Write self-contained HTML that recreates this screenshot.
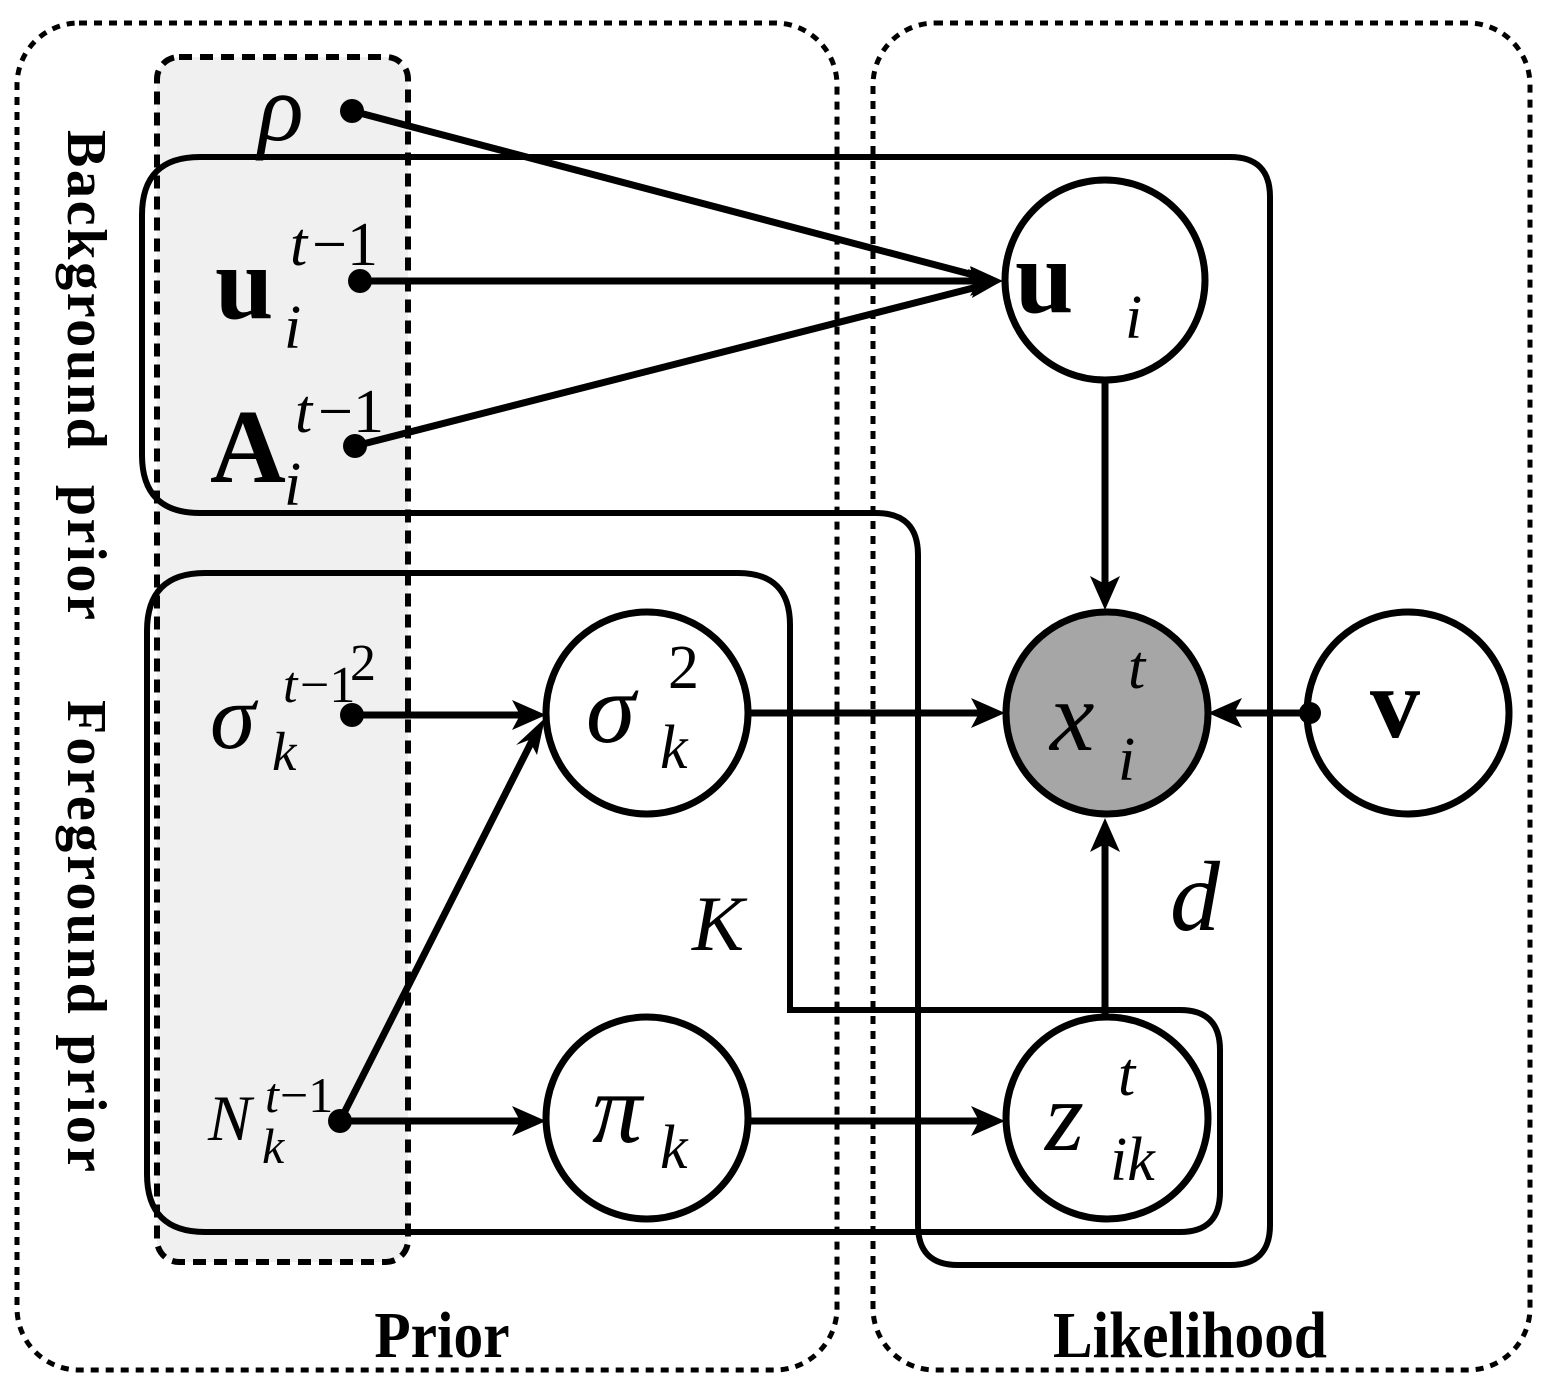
<!DOCTYPE html>
<html><head><meta charset="utf-8"><style>
html,body{margin:0;padding:0;background:#fff;}
svg{display:block;}
text{font-family:"Liberation Serif",serif;fill:#000;}
</style></head><body>
<svg width="1553" height="1394" viewBox="0 0 1553 1394" xmlns="http://www.w3.org/2000/svg">
<!-- gray dashed box -->
<rect x="157" y="57" width="251" height="1205" rx="22" fill="#f0f0f0" stroke="#000" stroke-width="6" stroke-dasharray="13,8"/>
<!-- outer dashed boxes -->
<rect x="17" y="23" width="820" height="1347" rx="62" fill="none" stroke="#000" stroke-width="5" stroke-dasharray="8,7"/>
<rect x="873" y="23" width="657" height="1347" rx="62" fill="none" stroke="#000" stroke-width="5" stroke-dasharray="8,7"/>

<!-- background plate d -->
<path d="M200,157 H1230 Q1270,157 1270,197 V1225 Q1270,1265 1230,1265 H958 Q918,1265 918,1225 V555 Q918,513 876,513 H200 Q142,513 142,455 V215 Q142,157 200,157 Z" fill="none" stroke="#000" stroke-width="6"/>
<!-- foreground plate K -->
<path d="M205,573 H738 Q790,573 790,625 V1010 H1180 Q1220,1010 1220,1050 V1192 Q1220,1232 1180,1232 H205 Q147,1232 147,1174 V631 Q147,573 205,573 Z" fill="none" stroke="#000" stroke-width="6"/>

<!-- nodes -->
<circle cx="1105" cy="280" r="100" fill="#fff" stroke="#000" stroke-width="7"/>
<circle cx="1107" cy="713" r="101" fill="#a6a6a6" stroke="#000" stroke-width="7"/>
<circle cx="647" cy="713" r="101" fill="#fff" stroke="#000" stroke-width="7"/>
<circle cx="647" cy="1118" r="101" fill="#fff" stroke="#000" stroke-width="7"/>
<circle cx="1107" cy="1118" r="101" fill="#fff" stroke="#000" stroke-width="7"/>
<circle cx="1408" cy="713" r="101" fill="#fff" stroke="#000" stroke-width="7"/>

<!-- edges -->
<g stroke="#000" stroke-width="7" fill="none">
<line x1="352" y1="111" x2="985" y2="278"/>
<line x1="360" y1="281" x2="985" y2="281"/>
<line x1="355" y1="446" x2="985" y2="285"/>
<line x1="352" y1="715" x2="528" y2="715"/>
<line x1="340" y1="1121" x2="536" y2="733"/>
<line x1="340" y1="1121" x2="528" y2="1121"/>
<line x1="750" y1="713" x2="988" y2="713"/>
<line x1="750" y1="1121" x2="988" y2="1121"/>
<line x1="1105" y1="380" x2="1105" y2="592"/>
<line x1="1105" y1="1017" x2="1105" y2="836"/>
<line x1="1310" y1="713" x2="1228" y2="713"/>
</g>
<g fill="#000">
<polygon points="1003,281 970,266 978,281 970,296"/>
<polygon points="1002,281 970,267 976,282 967,293"/>
<polygon points="1002,281 968,269 976,284 972,298"/>
<polygon points="546,715 512,700 520,715 512,730"/>
<polygon points="546,1121 512,1106 520,1121 512,1136"/>
<polygon points="1005,713 971,698 979,713 971,728"/>
<polygon points="1005,1121 971,1106 979,1121 971,1136"/>
<polygon points="1105,610 1090,576 1105,584 1120,576"/>
<polygon points="1105,818 1090,852 1105,844 1120,852"/>
<polygon points="1208,713 1242,698 1234,713 1242,728"/>
<polygon points="545,718 537,755 529,740 516,745"/>
<circle cx="352" cy="111" r="12"/>
<circle cx="360" cy="281" r="12"/>
<circle cx="355" cy="446" r="12"/>
<circle cx="352" cy="715" r="12"/>
<circle cx="340" cy="1121" r="12"/>
<circle cx="1310" cy="713" r="11"/>
</g>

<!-- labels -->
<text x="258" y="140" font-size="95" font-style="italic">ρ</text>
<text x="215" y="318" font-size="105" font-weight="bold">u</text>
<text x="290" y="265" font-size="62" font-style="italic">t</text>
<text x="312" y="265" font-size="62">−1</text>
<text x="284" y="348" font-size="62" font-style="italic">i</text>
<text x="210" y="482" font-size="105" font-weight="bold">A</text>
<text x="295" y="432" font-size="62" font-style="italic">t</text>
<text x="318" y="432" font-size="62">−1</text>
<text x="284" y="505" font-size="62" font-style="italic">i</text>

<text x="1015" y="312" font-size="105" font-weight="bold">u</text>
<text x="1125" y="338" font-size="62" font-style="italic">i</text>

<text x="210" y="748" font-size="92" font-style="italic">σ</text>
<text x="283" y="702" font-size="52" font-style="italic">t</text>
<text x="300" y="702" font-size="52">−1</text>
<text x="350" y="680" font-size="52">2</text>
<text x="272" y="770" font-size="55" font-style="italic">k</text>

<text x="586" y="742" font-size="100" font-style="italic">σ</text>
<text x="668" y="688" font-size="62">2</text>
<text x="660" y="768" font-size="62" font-style="italic">k</text>

<text x="208" y="1140" font-size="65" font-style="italic">N</text>
<text x="265" y="1112" font-size="50" font-style="italic">t</text>
<text x="280" y="1112" font-size="50">−1</text>
<text x="262" y="1163" font-size="50" font-style="italic">k</text>

<text x="592" y="1142" font-size="100" font-style="italic">π</text>
<text x="660" y="1168" font-size="62" font-style="italic">k</text>

<text x="1050" y="750" font-size="100" font-style="italic">x</text>
<text x="1128" y="688" font-size="62" font-style="italic">t</text>
<text x="1118" y="780" font-size="62" font-style="italic">i</text>

<text x="1045" y="1150" font-size="100" font-style="italic">z</text>
<text x="1118" y="1095" font-size="62" font-style="italic">t</text>
<text x="1110" y="1180" font-size="62" font-style="italic">ik</text>

<text x="1370" y="737" font-size="100" font-weight="bold">v</text>
<text x="1170" y="930" font-size="100" font-style="italic">d</text>
<text x="692" y="950" font-size="78" font-style="italic">K</text>

<text x="442" y="1357" font-size="66" font-weight="bold" text-anchor="middle" transform="translate(442,0) scale(0.9,1) translate(-442,0)">Prior</text>
<text x="1190" y="1357" font-size="66" font-weight="bold" text-anchor="middle" transform="translate(1190,0) scale(0.9,1) translate(-1190,0)">Likelihood</text>

<text transform="translate(68,130) rotate(90)" font-size="56" font-weight="bold" textLength="490" lengthAdjust="spacing" xml:space="preserve">Background  prior</text>
<text transform="translate(68,700) rotate(90)" font-size="56" font-weight="bold" textLength="472" lengthAdjust="spacing" xml:space="preserve">Foreground prior</text>
</svg>
</body></html>
